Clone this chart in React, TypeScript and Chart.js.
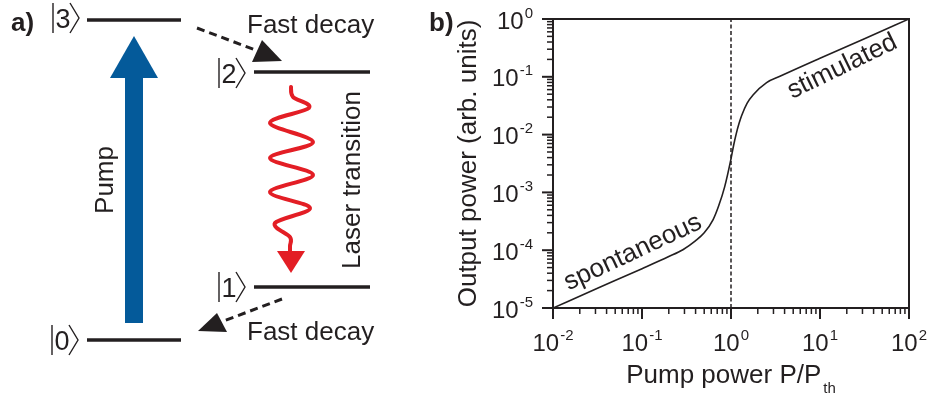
import React, { useEffect, useRef } from 'react';
import { Chart, registerables } from 'chart.js';

Chart.register(...registerables);

// Output power versus pump power (both normalised), log-log
const pumpPower = [0.01, 0.0316, 0.1, 0.2, 0.288, 0.398, 0.5, 0.63, 0.724, 0.85, 1, 1.072, 1.148, 1.23, 1.318, 1.514, 1.778, 2.512, 3.548, 10, 31.62, 100];
const outputPower = [1e-5, 2.19e-5, 4.79e-5, 7.76e-5, 1.02e-4, 1.45e-4, 2.0e-4, 3.39e-4, 5.75e-4, 1.26e-3, 3.8e-3, 6.6e-3, 1.05e-2, 1.55e-2, 2.14e-2, 3.47e-2, 4.9e-2, 7.94e-2, 0.102, 0.209, 0.457, 1];

// Lasing threshold marker P = P_th
const thresholdX = [1, 1];
const thresholdY = [1e-5, 1];

// Decade exponents for the tick labels
const xTickExponents = [-2, -1, 0, 1, 2];
const yTickExponents = [-5, -4, -3, -2, -1, 0];

// Region labels, anchored in data coordinates
const regionLabels = ['spontaneous', 'stimulated'];
const regionX = [0.079, 17.8];
const regionY = [9.1e-5, 0.15];
const regionAngle = [-25, -26];

// Energy levels of the four-level scheme
const levelNames = ['0', '1', '2', '3'];

const FONT = '"Liberation Sans", Arial, Helvetica, sans-serif';
const INK = '#231f20';

function drawKet(ctx: CanvasRenderingContext2D, x: number, cy: number, digit: string) {
  ctx.save();
  ctx.strokeStyle = INK;
  ctx.fillStyle = INK;
  ctx.lineWidth = 1.4;
  ctx.beginPath();
  ctx.moveTo(x, cy - 15);
  ctx.lineTo(x, cy + 15);
  ctx.stroke();
  ctx.font = `27px ${FONT}`;
  ctx.textAlign = 'left';
  ctx.textBaseline = 'alphabetic';
  ctx.fillText(digit, x + 2.5, cy + 9.5);
  ctx.beginPath();
  ctx.moveTo(x + 17, cy - 15);
  ctx.lineTo(x + 26, cy);
  ctx.lineTo(x + 17, cy + 15);
  ctx.stroke();
  ctx.restore();
}

function drawLevel(ctx: CanvasRenderingContext2D, x1: number, x2: number, y: number) {
  ctx.save();
  ctx.strokeStyle = INK;
  ctx.lineWidth = 3.3;
  ctx.beginPath();
  ctx.moveTo(x1, y);
  ctx.lineTo(x2, y);
  ctx.stroke();
  ctx.restore();
}

function drawDashedArrow(ctx: CanvasRenderingContext2D, from: number[], to: number[], head: number[][]) {
  ctx.save();
  ctx.strokeStyle = INK;
  ctx.fillStyle = INK;
  ctx.lineWidth = 3;
  ctx.setLineDash([8, 5]);
  ctx.beginPath();
  ctx.moveTo(from[0], from[1]);
  ctx.lineTo(to[0], to[1]);
  ctx.stroke();
  ctx.setLineDash([]);
  ctx.beginPath();
  ctx.moveTo(head[0][0], head[0][1]);
  ctx.lineTo(head[1][0], head[1][1]);
  ctx.lineTo(head[2][0], head[2][1]);
  ctx.closePath();
  ctx.fill();
  ctx.restore();
}

function drawRotatedText(ctx: CanvasRenderingContext2D, text: string, x: number, y: number, deg: number, font: string, baseline: CanvasTextBaseline = 'alphabetic') {
  ctx.save();
  ctx.translate(x, y);
  ctx.rotate((deg * Math.PI) / 180);
  ctx.font = font;
  ctx.fillStyle = INK;
  ctx.textAlign = 'center';
  ctx.textBaseline = baseline;
  ctx.fillText(text, 0, 0);
  ctx.restore();
}

// Panel a): four-level laser scheme
function drawScheme(ctx: CanvasRenderingContext2D) {
  ctx.save();
  ctx.fillStyle = INK;
  ctx.font = `bold 26px ${FONT}`;
  ctx.textBaseline = 'alphabetic';
  ctx.textAlign = 'left';
  ctx.fillText('a)', 11, 31);

  // levels
  drawLevel(ctx, 87, 181, 20);
  drawLevel(ctx, 254, 370, 72);
  drawLevel(ctx, 254, 370, 287);
  drawLevel(ctx, 87, 181, 340);
  drawKet(ctx, 53, 18, levelNames[3]);
  drawKet(ctx, 219, 73, levelNames[2]);
  drawKet(ctx, 219, 287, levelNames[1]);
  drawKet(ctx, 52, 340, levelNames[0]);

  // pump arrow
  ctx.fillStyle = '#045a9a';
  ctx.fillRect(125, 76, 18, 247);
  ctx.beginPath();
  ctx.moveTo(110, 78);
  ctx.lineTo(134, 36);
  ctx.lineTo(158, 78);
  ctx.closePath();
  ctx.fill();
  drawRotatedText(ctx, 'Pump', 113, 180, -90, `26px ${FONT}`);

  // fast decays
  drawDashedArrow(ctx, [197, 28], [258, 51], [[282, 61], [262, 40], [252, 62]]);
  drawDashedArrow(ctx, [282, 299], [221, 322], [[198, 331], [227, 332], [217, 313]]);
  ctx.fillStyle = INK;
  ctx.font = `26px ${FONT}`;
  ctx.textAlign = 'left';
  ctx.fillText('Fast decay', 247, 33);
  ctx.fillText('Fast decay', 247, 340);

  // laser transition (wavy photon)
  const pts = [
    [291, 87], [293, 97], [309, 108], [270, 123], [313, 142], [270, 158],
    [313, 175], [270, 192], [310, 208], [275, 223], [290, 237], [290, 246], [290, 256],
  ];
  ctx.strokeStyle = '#e31e25';
  ctx.fillStyle = '#e31e25';
  ctx.lineWidth = 4;
  ctx.lineCap = 'round';
  ctx.lineJoin = 'round';
  ctx.beginPath();
  ctx.moveTo(pts[0][0], pts[0][1]);
  for (let i = 0; i < pts.length - 1; i++) {
    const p0 = pts[Math.max(0, i - 1)];
    const p1 = pts[i];
    const p2 = pts[i + 1];
    const p3 = pts[Math.min(pts.length - 1, i + 2)];
    const c1x = p1[0] + (p2[0] - p0[0]) / 6;
    const c1y = p1[1] + (p2[1] - p0[1]) / 6;
    const c2x = p2[0] - (p3[0] - p1[0]) / 6;
    const c2y = p2[1] - (p3[1] - p1[1]) / 6;
    ctx.bezierCurveTo(c1x, c1y, c2x, c2y, p2[0], p2[1]);
  }
  ctx.stroke();
  ctx.beginPath();
  ctx.moveTo(277, 251);
  ctx.lineTo(305, 251);
  ctx.lineTo(291, 273);
  ctx.closePath();
  ctx.fill();
  drawRotatedText(ctx, 'Laser transition', 360, 180, -90, `26px ${FONT}`);
  ctx.restore();
}

function drawPower(ctx: CanvasRenderingContext2D, exp: number, x: number, baseY: number, align: 'center' | 'right') {
  const base = '10';
  const sup = String(exp);
  ctx.font = `24px ${FONT}`;
  const wb = ctx.measureText(base).width;
  ctx.font = `15px ${FONT}`;
  const ws = ctx.measureText(sup).width;
  const total = wb + 1 + ws;
  const x0 = align === 'center' ? x - total / 2 : x - total;
  ctx.textAlign = 'left';
  ctx.textBaseline = 'alphabetic';
  ctx.font = `24px ${FONT}`;
  ctx.fillText(base, x0, baseY);
  ctx.font = `15px ${FONT}`;
  ctx.fillText(sup, x0 + wb + 1, baseY - 11);
}

const framePlugin = {
  id: 'frameAndScheme',
  afterDraw(chart: any) {
    const ctx: CanvasRenderingContext2D = chart.ctx;
    const { left, right, top, bottom } = chart.chartArea;
    const xs = chart.scales.x;
    const ys = chart.scales.y;
    ctx.save();
    ctx.strokeStyle = INK;
    ctx.fillStyle = INK;

    // frame
    ctx.lineWidth = 2;
    ctx.strokeRect(left, top, right - left, bottom - top);

    // x ticks
    for (let e = -2; e <= 2; e++) {
      for (let m = 1; m <= 9; m++) {
        if (e === 2 && m > 1) break;
        const v = m * Math.pow(10, e);
        const px = xs.getPixelForValue(v);
        ctx.lineWidth = m === 1 ? 2 : 1.5;
        ctx.beginPath();
        ctx.moveTo(px, bottom);
        ctx.lineTo(px, bottom + (m === 1 ? 11 : 6));
        ctx.stroke();
      }
    }
    // y ticks
    for (let e = -5; e <= 0; e++) {
      for (let m = 1; m <= 9; m++) {
        if (e === 0 && m > 1) break;
        const v = m * Math.pow(10, e);
        const py = ys.getPixelForValue(v);
        ctx.lineWidth = m === 1 ? 2 : 1.5;
        ctx.beginPath();
        ctx.moveTo(left, py);
        ctx.lineTo(left - (m === 1 ? 11 : 6), py);
        ctx.stroke();
      }
    }

    // tick labels
    xTickExponents.forEach((e) => {
      drawPower(ctx, e, xs.getPixelForValue(Math.pow(10, e)), bottom + 43, 'center');
    });
    yTickExponents.forEach((e) => {
      drawPower(ctx, e, left - 20, ys.getPixelForValue(Math.pow(10, e)) + 9.5, 'right');
    });

    // axis titles
    const cx = (left + right) / 2;
    ctx.font = `26px ${FONT}`;
    const main = 'Pump power P/P';
    const wm = ctx.measureText(main).width;
    ctx.font = `15px ${FONT}`;
    const wsub = ctx.measureText('th').width;
    const x0 = cx - (wm + 2 + wsub) / 2;
    ctx.textAlign = 'left';
    ctx.font = `26px ${FONT}`;
    ctx.fillText(main, x0, 383);
    ctx.font = `15px ${FONT}`;
    ctx.fillText('th', x0 + wm + 2, 393);
    drawRotatedText(ctx, 'Output power (arb. units)', 476, (top + bottom) / 2, -90, `26px ${FONT}`);

    // panel label
    ctx.font = `bold 26px ${FONT}`;
    ctx.textAlign = 'left';
    ctx.fillText('b)', 429, 31);

    // region labels
    regionLabels.forEach((t, i) => {
      drawRotatedText(ctx, t, xs.getPixelForValue(regionX[i]), ys.getPixelForValue(regionY[i]), regionAngle[i], `26px ${FONT}`, 'middle');
    });

    drawScheme(ctx);
    ctx.restore();
  },
};

export default function App() {
  const ref = useRef<HTMLCanvasElement>(null);

  useEffect(() => {
    const canvas = ref.current;
    if (!canvas) return;
    const chart = new Chart(canvas, {
      type: 'line',
      data: {
        datasets: [
          {
            data: pumpPower.map((x, i) => ({ x, y: outputPower[i] })),
            borderColor: INK,
            borderWidth: 1.6,
            pointRadius: 0,
            cubicInterpolationMode: 'monotone',
            fill: false,
          },
          {
            data: thresholdX.map((x, i) => ({ x, y: thresholdY[i] })),
            borderColor: INK,
            borderWidth: 1.5,
            borderDash: [4, 2.5],
            pointRadius: 0,
            fill: false,
          },
        ],
      },
      options: {
        responsive: false,
        animation: false,
        devicePixelRatio: 1,
        layout: { padding: { left: 553, right: 22, top: 19, bottom: 90 } },
        plugins: { legend: { display: false }, tooltip: { enabled: false } },
        scales: {
          x: {
            type: 'logarithmic',
            min: 0.01,
            max: 100,
            grid: { display: false, drawTicks: false },
            border: { display: false },
            ticks: { display: false },
            afterFit: (s: any) => { s.height = 0; },
          },
          y: {
            type: 'logarithmic',
            min: 1e-5,
            max: 1,
            grid: { display: false, drawTicks: false },
            border: { display: false },
            ticks: { display: false },
            afterFit: (s: any) => { s.width = 0; },
          },
        },
      },
      plugins: [framePlugin],
    } as any);
    return () => chart.destroy();
  }, []);

  return (
    <div style={{ position: 'absolute', left: 0, top: 0, width: 931, height: 398, background: '#fff' }}>
      <canvas ref={ref} width={931} height={398} style={{ display: 'block', width: 931, height: 398 }} />
    </div>
  );
}
